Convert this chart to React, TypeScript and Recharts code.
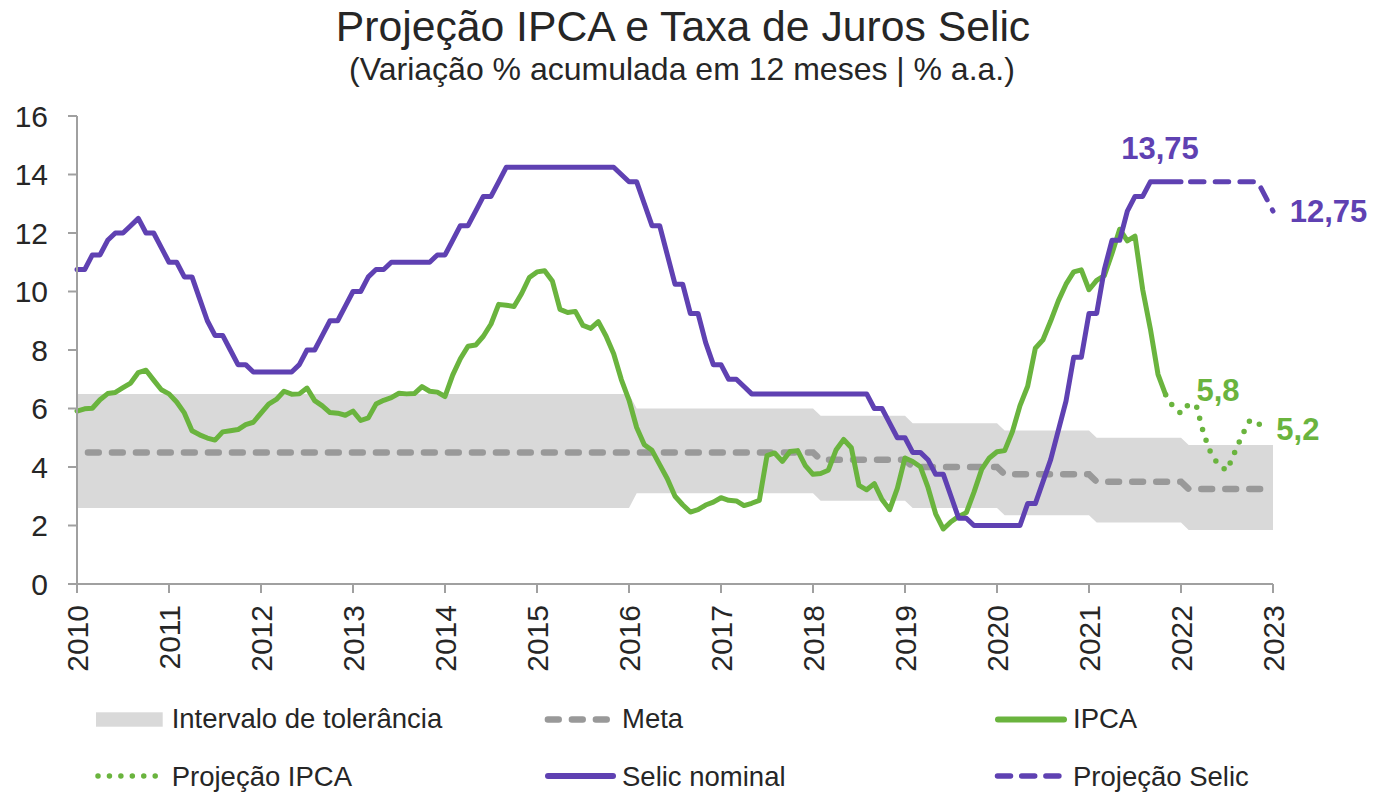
import React from 'react';
import { ComposedChart, Line, Area, XAxis, YAxis } from 'recharts';

const FONT = '"Liberation Sans", Arial, Helvetica, sans-serif';
const TEXT = '#262626';
const GREEN = '#6AB43E';
const PURPLE = '#5F41B2';
const BAND = '#D9D9D9';
const META = '#999999';
const AXIS = '#A0A0A0';

// Year tick labels (one every 12 monthly points)
const years = [2010, 2011, 2012, 2013, 2014, 2015, 2016, 2017, 2018, 2019, 2020, 2021, 2022, 2023];

// Inflation target and tolerance band, per year
const metaByYear = [4.5, 4.5, 4.5, 4.5, 4.5, 4.5, 4.5, 4.5, 4.5, 4.25, 4.0, 3.75, 3.5, 3.25];
const bandHighByYear = [6.5, 6.5, 6.5, 6.5, 6.5, 6.5, 6.5, 6.0, 6.0, 5.75, 5.5, 5.25, 5.0, 4.75];
const bandLowByYear = [2.6, 2.6, 2.6, 2.6, 2.6, 2.6, 2.6, 3.1, 3.1, 2.85, 2.6, 2.35, 2.1, 1.85];

// IPCA, 12-month accumulated (monthly points from the 2010 tick)
const ipca = [
  5.91,
  5.99, 6.01, 6.30, 6.51, 6.55, 6.71, 6.87, 7.23, 7.31, 6.97, 6.64, 6.50,
  6.22, 5.85, 5.24, 5.10, 4.99, 4.92, 5.20, 5.24, 5.28, 5.45, 5.53, 5.84,
  6.15, 6.31, 6.59, 6.49, 6.50, 6.70, 6.27, 6.09, 5.86, 5.84, 5.77, 5.91,
  5.59, 5.68, 6.15, 6.28, 6.37, 6.52, 6.50, 6.51, 6.75, 6.59, 6.56, 6.41,
  7.14, 7.70, 8.13, 8.17, 8.47, 8.89, 9.56, 9.53, 9.49, 9.93, 10.48, 10.67,
  10.71, 10.36, 9.39, 9.28, 9.32, 8.84, 8.74, 8.97, 8.48, 7.87, 6.99, 6.29,
  5.35, 4.76, 4.57, 4.08, 3.60, 3.00, 2.71, 2.46, 2.54, 2.70, 2.80, 2.95,
  2.86, 2.84, 2.68, 2.76, 2.86, 4.39, 4.48, 4.19, 4.53, 4.56, 4.05, 3.75,
  3.78, 3.89, 4.58, 4.94, 4.66, 3.37, 3.22, 3.43, 2.89, 2.54, 3.27, 4.31,
  4.19, 4.01, 3.30, 2.40, 1.88, 2.13, 2.31, 2.44, 3.14, 3.92, 4.31, 4.52,
  4.56, 5.20, 6.10, 6.76, 8.06, 8.35, 8.99, 9.68, 10.25, 10.67, 10.74, 10.06,
  10.38, 10.54, 11.30, 12.13, 11.73, 11.89, 10.07, 8.73, 7.17, 6.47,
];

// IPCA projection, starting at the last observed point
const IPCA_PROJ_START = 142;
const ipcaProj = [6.47, 6.05, 5.83, 6.15, 6.1, 5.1, 4.4, 4.05, 3.88, 4.5, 5.1, 5.6, 5.5, 5.3];

// Selic nominal (% a.a.)
const selic = [
  10.75, 10.75, 11.25, 11.25, 11.75, 12, 12, 12.25, 12.5, 12, 12, 11.5,
  11, 11, 10.5, 10.5, 9.75, 9, 8.5, 8.5, 8, 7.5, 7.5, 7.25,
  7.25, 7.25, 7.25, 7.25, 7.25, 7.5, 8, 8, 8.5, 9, 9, 9.5,
  10, 10, 10.5, 10.75, 10.75, 11, 11, 11, 11, 11, 11, 11.25,
  11.25, 11.75, 12.25, 12.25, 12.75, 13.25, 13.25, 13.75, 14.25, 14.25, 14.25, 14.25,
  14.25, 14.25, 14.25, 14.25, 14.25, 14.25, 14.25, 14.25, 14.25, 14.25, 14.25, 14,
  13.75, 13.75, 13, 12.25, 12.25, 11.25, 10.25, 10.25, 9.25, 9.25, 8.25, 7.5,
  7.5, 7, 7, 6.75, 6.5, 6.5, 6.5, 6.5, 6.5, 6.5, 6.5, 6.5,
  6.5, 6.5, 6.5, 6.5, 6.5, 6.5, 6.5, 6.5, 6, 6, 5.5, 5,
  5, 4.5, 4.5, 4.25, 3.75, 3.75, 3, 2.25, 2.25, 2, 2, 2,
  2, 2, 2, 2, 2.75, 2.75, 3.5, 4.25, 5.25, 6.25, 7.75, 7.75,
  9.25, 9.25, 10.75, 11.75, 11.75, 12.75, 13.25, 13.25, 13.75, 13.75, 13.75, 13.75,
  13.75,
];

// Selic projection
const SELIC_PROJ_START = 144;
const selicProj = [13.75, 13.75, 13.75, 13.75, 13.75, 13.75, 13.75, 13.75, 13.75, 13.75, 13.75, 13.25, 12.75];

// Value labels: [series point index, text, dx, dy, anchor]
const selicLabels: [number, string, number, number, string][] = [[141, '13,75', 2, -22.5, 'middle']];
const selicProjLabels: [number, string, number, number, string][] = [[156, '12,75', 16.7, 11, 'start']];
const ipcaProjLabels: [number, string, number, number, string][] = [
  [144, '5,8', 15.4, -12.7, 'start'],
  [155, '5,2', 11, 11, 'start'],
];

const LAST = (years.length - 1) * 12;
const yearSlot = (i: number) => Math.ceil(i / 12);

const data = Array.from({ length: LAST + 1 }, (_, i) => {
  const k = yearSlot(i);
  const pj = i - IPCA_PROJ_START;
  const sj = i - SELIC_PROJ_START;
  return {
    i,
    band: [bandLowByYear[k], bandHighByYear[k]],
    meta: metaByYear[k],
    ipca: i < ipca.length ? ipca[i] : null,
    ipcaProj: pj >= 0 && pj < ipcaProj.length ? ipcaProj[pj] : null,
    selic: i < selic.length ? selic[i] : null,
    selicProj: sj >= 0 && sj < selicProj.length ? selicProj[sj] : null,
  };
});

const xTicks = years.map((_, k) => k * 12);
const yTicks = [0, 2, 4, 6, 8, 10, 12, 14, 16];

const XTick = (props: any) => {
  const { x, y, payload } = props;
  const label = years[Math.round(payload.value / 12)];
  return (
    <text
      x={x}
      y={y}
      transform={`rotate(-90, ${x}, ${y})`}
      textAnchor="end"
      dominantBaseline="central"
      fontSize={30}
      fontFamily={FONT}
      fill={TEXT}
    >
      {label}
    </text>
  );
};

const makeLabel = (labels: [number, string, number, number, string][], color: string) =>
  (props: any) => {
    const hit = labels.find((l) => l[0] === props.index);
    if (!hit || props.x == null || props.y == null) return null;
    const [, text, dx, dy, anchor] = hit;
    return (
      <text
        x={props.x + dx}
        y={props.y + dy}
        textAnchor={anchor}
        fontSize={31}
        fontWeight="bold"
        fontFamily={FONT}
        fill={color}
      >
        {text}
      </text>
    );
  };

const Legend = () => {
  const fs = 27.5;
  const r1 = 719.5;
  const r2 = 776;
  const b1 = 728.3;
  const b2 = 785.7;
  const t = { fontSize: fs, fontFamily: FONT, fill: TEXT } as any;
  return (
    <g>
      <rect x={96} y={712.3} width={66.7} height={14.4} fill={BAND} />
      <text x={171.7} y={b1} {...t}>Intervalo de tolerância</text>

      <line x1={547.9} x2={606.7} y1={r1} y2={r1} stroke={META} strokeWidth={6.5}
        strokeDasharray="10.8 13.2" strokeLinecap="round" />
      <text x={622} y={b1} {...t}>Meta</text>

      <line x1={998} x2={1064} y1={r1} y2={r1} stroke={GREEN} strokeWidth={6} strokeLinecap="round" />
      <text x={1073} y={b1} {...t}>IPCA</text>

      <line x1={98} x2={155.5} y1={r2} y2={r2} stroke={GREEN} strokeWidth={5.5}
        strokeDasharray="0 11.44" strokeLinecap="round" />
      <text x={171.7} y={b2} {...t}>Projeção IPCA</text>

      <line x1={548} x2={613} y1={r2} y2={r2} stroke={PURPLE} strokeWidth={6} strokeLinecap="round" />
      <text x={622} y={b2} {...t}>Selic nominal</text>

      <line x1={997.5} x2={1058.9} y1={r2} y2={r2} stroke={PURPLE} strokeWidth={5.5}
        strokeDasharray="13 11.2" strokeLinecap="round" />
      <text x={1073} y={b2} {...t}>Projeção Selic</text>
    </g>
  );
};

export default function App() {
  return (
    <div style={{ position: 'absolute', left: 0, top: 0, width: 1373, height: 793, background: '#fff' }}>
      <div style={{ position: 'absolute', left: 0, top: 0 }}>
        <ComposedChart
          width={1373}
          height={793}
          data={data}
          margin={{ top: 116, right: 100, bottom: 149, left: 0 }}
        >
          <XAxis
            type="number"
            dataKey="i"
            domain={[0, LAST]}
            ticks={xTicks}
            interval={0}
            height={60}
            tickSize={9}
            tickMargin={12}
            axisLine={{ stroke: AXIS, strokeWidth: 2 }}
            tickLine={{ stroke: AXIS, strokeWidth: 2 }}
            tick={<XTick />}
          />
          <YAxis
            type="number"
            domain={[0, 16]}
            ticks={yTicks}
            interval={0}
            width={77}
            tickSize={9}
            tickMargin={20}
            axisLine={{ stroke: AXIS, strokeWidth: 2 }}
            tickLine={{ stroke: AXIS, strokeWidth: 2 }}
            tick={{ fontSize: 30, fill: TEXT, fontFamily: FONT }}
          />
          <Area
            type="linear"
            dataKey="band"
            stroke="none"
            fill={BAND}
            fillOpacity={1}
            isAnimationActive={false}
            activeDot={false}
          />
          <Line
            type="linear"
            dataKey="meta"
            stroke={META}
            strokeWidth={6.5}
            strokeDasharray="10.8 13.2"
            strokeDashoffset={13.05}
            strokeLinecap="round"
            dot={false}
            activeDot={false}
            isAnimationActive={false}
          />
          <Line
            type="linear"
            dataKey="ipca"
            stroke={GREEN}
            strokeWidth={5}
            strokeLinecap="round"
            strokeLinejoin="round"
            dot={false}
            activeDot={false}
            isAnimationActive={false}
          />
          <Line
            type="linear"
            dataKey="ipcaProj"
            stroke={GREEN}
            strokeWidth={5.5}
            strokeDasharray="0 11.5"
            strokeLinecap="round"
            dot={false}
            activeDot={false}
            isAnimationActive={false}
            label={makeLabel(ipcaProjLabels, GREEN)}
          />
          <Line
            type="linear"
            dataKey="selic"
            stroke={PURPLE}
            strokeWidth={5}
            strokeLinecap="round"
            strokeLinejoin="round"
            dot={false}
            activeDot={false}
            isAnimationActive={false}
            label={makeLabel(selicLabels, PURPLE)}
          />
          <Line
            type="linear"
            dataKey="selicProj"
            stroke={PURPLE}
            strokeWidth={5}
            strokeDasharray="13.5 11.2"
            strokeDashoffset={15.2}
            strokeLinecap="round"
            strokeLinejoin="round"
            dot={false}
            activeDot={false}
            isAnimationActive={false}
            label={makeLabel(selicProjLabels, PURPLE)}
          />
        </ComposedChart>
      </div>
      <svg
        width={1373}
        height={793}
        style={{ position: 'absolute', left: 0, top: 0, pointerEvents: 'none' }}
      >
        <text x={683} y={41} textAnchor="middle" fontSize={42.7} fontFamily={FONT} fill={TEXT}>
          Projeção IPCA e Taxa de Juros Selic
        </text>
        <text x={682} y={80} textAnchor="middle" fontSize={32} fontFamily={FONT} fill={TEXT}>
          (Variação % acumulada em 12 meses | % a.a.)
        </text>
        <Legend />
      </svg>
    </div>
  );
}
